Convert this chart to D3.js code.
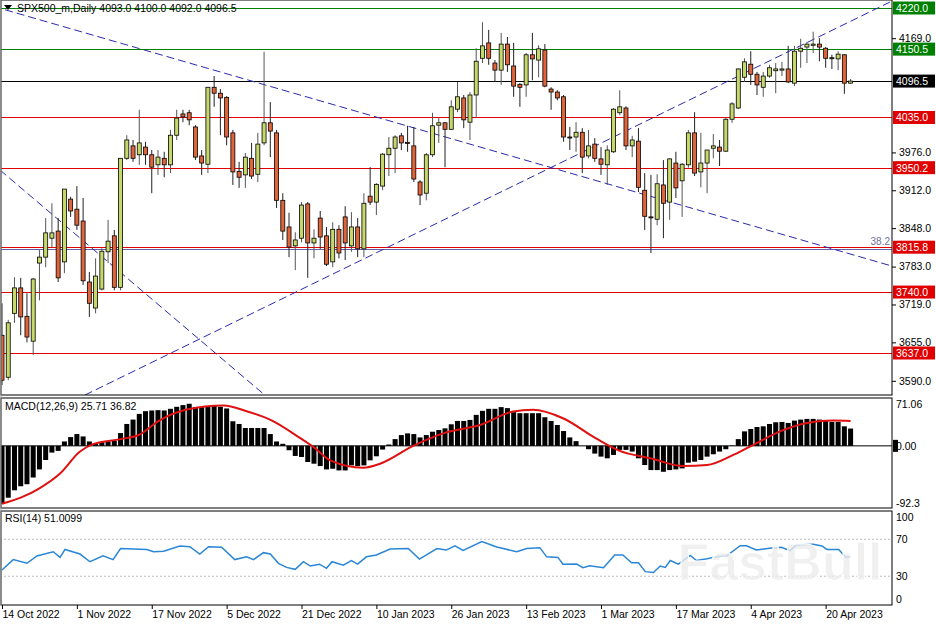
<!DOCTYPE html>
<html>
<head>
<meta charset="utf-8">
<script src="https://cdn.jsdelivr.net/npm/d3@7"></script>
<style>
  body { margin: 0; background: #fff; }
  svg text { font-family: "Liberation Sans", Arial, sans-serif; }
</style>
</head>
<body>
<svg id="chart" width="936" height="624"></svg>
<script>
const width = 936;
const height = 624;
const plotRight = 892;

// candles, 14 Oct 2022 .. 25 Apr 2023 (daily)
const open = [3667,3596,3704,3747,3699,3657,3789,3799,3831,3843,
  3791,3897,3880,3860,3757,3713,3745,3808,3835,3748,
  3966,3987,3972,3985,3972,3955,3966,3955,4005,4041,
  4043,4019,3970,3956,4086,4076,4069,4009,3944,3938,
  3966,3939,3992,4026,4009,3895,3850,3818,3831,3889,
  3823,3865,3835,3791,3846,3867,3818,3850,3813,3902,
  3892,3919,3972,3983,4004,3993,3987,3926,3907,3972,
  4022,4026,4015,4049,4068,4027,4073,4135,4161,4127,
  4115,4159,4122,4091,4090,4141,4132,4149,4083,4078,
  4070,4002,4002,4010,3970,3990,3965,3955,3977,4043,
  4051,3987,3995,3912,3867,3863,3921,3892,3958,3928,
  3955,4009,3943,3958,3983,3985,3978,4032,4051,4103,
  4125,4108,4086,4105,4114,4115,4117,4093,4147,4154,
  4157,4159,4152,4136,4134,4141,4093];
const high = [3721,3693,3765,3764,3738,3764,3811,3865,3890,3865,
  3914,3901,3919,3899,3774,3797,3814,3862,3845,3966,
  4005,3997,4048,3994,3980,3980,3977,4014,4048,4048,
  4048,4022,3980,4086,4105,4083,4071,4014,3960,3975,
  3992,4009,4146,4061,4014,3907,3874,3841,3892,3892,
  3846,3877,3850,3858,3853,3885,3875,3865,3907,3951,
  3924,3975,4002,4005,4009,4021,4019,3929,3975,4043,
  4034,4027,4064,4095,4073,4078,4152,4196,4183,4132,
  4178,4171,4161,4093,4144,4178,4157,4159,4086,4081,
  4073,4019,4027,4017,4014,4000,3985,3988,4051,4081,
  4054,4004,4017,3941,3938,3939,3963,3966,3977,3958,
  4014,4044,4009,3980,4007,3997,4034,4061,4118,4135,
  4147,4112,4112,4124,4127,4129,4156,4156,4168,4163,
  4180,4169,4154,4141,4147,4142,4100];
const low = [3583,3591,3688,3667,3655,3634,3726,3782,3816,3757,
  3772,3867,3845,3752,3698,3704,3743,3789,3743,3743,
  3963,3960,3955,3955,3907,3938,3934,3941,3997,4027,
  4022,3963,3938,3941,4053,4005,3988,3921,3916,3916,
  3931,3926,3988,3968,3882,3828,3799,3777,3824,3764,
  3797,3813,3784,3782,3797,3794,3808,3799,3799,3887,
  3870,3912,3936,3941,3980,3977,3926,3887,3895,3968,
  3992,3951,4014,4044,4017,3997,4036,4127,4124,4095,
  4090,4112,4070,4053,4070,4098,4103,4086,4048,4064,
  3994,3980,3977,3941,3966,3960,3938,3921,3975,4039,
  3980,3968,3909,3845,3806,3853,3831,3862,3899,3867,
  3950,3936,3917,3907,3966,3953,3977,4026,4049,4095,
  4090,4073,4070,4102,4076,4105,4093,4088,4119,4127,
  4144,4130,4119,4117,4115,4075,4092];
const close = [3591,3688,3747,3698,3664,3762,3799,3840,3840,3764,
  3914,3877,3853,3759,3721,3767,3809,3826,3748,3966,
  3997,3966,3992,3972,3951,3968,3955,4005,4034,4036,
  4031,3968,3958,4086,4076,4068,4002,3943,3934,3968,
  3936,3990,4026,4012,3895,3843,3816,3828,3887,3823,
  3831,3833,3787,3846,3806,3823,3850,3813,3890,3892,
  3922,3973,3983,4002,3992,3991,3931,3904,3972,4021,
  4026,4015,4053,4070,4031,4073,4130,4156,4135,4115,
  4159,4124,4088,4086,4141,4134,4151,4088,4078,4068,
  4002,4001,4010,3968,3987,3966,3956,3980,4049,4053,
  3987,3997,3917,3868,3866,3923,3890,3965,3916,3956,
  4009,3941,3958,3980,3987,3978,4032,4058,4117,4129,
  4108,4090,4105,4119,4117,4117,4095,4147,4152,4159,
  4159,4154,4135,4135,4142,4093,4096.5];

// MACD(12,26,9) histogram and signal line
const macd = [-86,-77,-66,-60,-57,-47,-35,-21,-10,-7.5,
  6.5,13,17.5,14,6.5,3,5.5,6.5,7.5,19,
  32.5,39,47.5,51.5,52.5,53,52.5,55,58,60.5,
  62.5,57.5,57.5,59,60,58,55.5,36.5,32.5,26.5,
  26.5,26.5,26.5,17.5,6.5,3,-6.5,-15,-16.5,-24,
  -26.5,-30,-35,-34,-36.5,-36.5,-29,-30,-29,-21.5,
  -15.5,-5.5,2,10,16,18.5,17.5,12.5,16,21,
  23.5,26,32,37,37,38.5,46,52,55,55,
  57.5,56,50,48.5,48.5,48.5,48.5,42.5,37,31,
  22,12.5,7,0,-5,-11.5,-16,-18.5,-13.5,-6,
  -6,-8.5,-18.5,-28.5,-36,-36,-38.5,-36,-35,-33.5,
  -25,-23.5,-21,-16,-12.5,-8.5,-5,0.5,10,21.5,
  25,28,29,32.5,35,35.5,34,37.5,39,40,
  40,39,38,35.5,35.5,29,25.71];
const signalAt = [0,3,6,9.3,12.5,14.6,19,22,25,29.6,35.5,39.2,43.5,47.8,49.9,52.6,57.9,60.6,65.9,71.2,76.6,81.9,85.1,89.9,95.2,99,103.9,109.2,113,117.2,120.4,124.7,129,133.2,136];
const signalVal = [-86,-77,-63,-41,-8.5,2.5,10,16.5,36.5,54,60,51.5,36.5,11.5,-1.5,-21.5,-32.5,-26.5,0,20,31,51,53.5,41,11,-7.5,-18.5,-30,-28.5,-13.5,1.5,21.5,34,37.5,36.82];

// RSI(14)
const rsiAt = [0,1.8,4,5.6,8.2,9.3,10.1,12.5,14.1,16.2,17.8,19,23.2,24.3,25.9,28.5,30.1,31.7,33.1,35.2,37.3,39.2,40.3,41.9,43,44.3,45.6,47,48.3,49.4,50.9,52,52.9,54.7,56,57,58.4,60,62.2,65.1,66.9,69.7,71.2,72.6,73.9,76.9,79.3,82.5,84.1,86.2,87.3,89.1,89.9,92.1,93.1,94.2,96.4,98.2,99.5,100.9,102,103.1,104.4,105.5,106.3,107.1,108.4,110.3,111.3,113,114.5,116.1,118.3,119.3,120.9,123,124.9,126.3,127.3,130,131.4,132.2,134.1,135.2,136];
const rsiVal = [36.8,48,44,52,56.5,50.5,59,54,45.7,52,48,60,59,56.5,57,62.7,62,54,62,61.3,48,51,48,55.5,54,44,39.6,37.5,45.7,41,43,38.6,45.7,42,46.8,43.2,51,53,59.5,60,48.6,60,58.3,63,58,67.4,61.6,56.5,60,60.9,51,50.4,43,43.2,39.2,41.4,39.2,53,53,44.6,44.6,35,34,41,39.6,47,43,52.5,47,48.9,51.2,51.9,63,63,58.4,60.2,61.3,57.7,63.8,64.5,62.7,59,59,50.5,51.01];

const dateLabels = ["14 Oct 2022","1 Nov 2022","17 Nov 2022","5 Dec 2022","21 Dec 2022","10 Jan 2023","26 Jan 2023","13 Feb 2023","1 Mar 2023","17 Mar 2023","4 Apr 2023","20 Apr 2023"];
const dateIdx = [0,12,24,36,48,60,72,84,96,108,120,132];

// 4105.0 and 4041.0 sit under the level boxes, so they are left out
const priceTicks = [4169,3976,3912,3848,3783,3719,3655,3590];
const levels = [
  { p: 4220.0, c: "#008000" }, { p: 4150.5, c: "#008000" }, { p: 4096.5, c: "#000000" },
  { p: 4035.0, c: "#e00000" }, { p: 3950.2, c: "#e00000" }, { p: 3815.8, c: "#e00000" },
  { p: 3740.0, c: "#e00000" }, { p: 3637.0, c: "#e00000" }];
// dashed trend lines [index, price]
const trendLines = [
  [[0.5, 4217], [142.6, 3784]],
  [[-0.3, 3946], [42.1, 3566]],
  [[13.3, 3566], [142.3, 4230]]];

const svg = d3.select("#chart");
const x = d3.scaleLinear().domain([0, 136]).range([2, 850.6]);
const y = d3.scaleLinear().domain([3637, 4220]).range([353, 8]);
const ym = d3.scaleLinear().domain([-92.3, 71.06]).range([508, 398]);
const yr = d3.scaleLinear().domain([0, 100]).range([604, 511.5]);

const panels = [[0, 395], [398, 508], [511, 605]];
panels.forEach((p, k) => {
  svg.append("clipPath").attr("id", "clip" + k)
    .append("rect").attr("x", 1).attr("y", p[0]).attr("width", plotRight - 1).attr("height", p[1] - p[0]);
});

// price panel
const gp = svg.append("g").attr("clip-path", "url(#clip0)");
levels.forEach(l => {
  gp.append("line").attr("x1", 0).attr("x2", plotRight)
    .attr("y1", Math.round(y(l.p)) + 0.5).attr("y2", Math.round(y(l.p)) + 0.5)
    .attr("stroke", l.c).attr("stroke-width", 1);
});
gp.append("line").attr("x1", 0).attr("x2", plotRight).attr("y1", Math.round(y(3812)) + 0.5).attr("y2", Math.round(y(3812)) + 0.5)
  .attr("stroke", "#6060a8").attr("stroke-width", 1);
trendLines.forEach(t => {
  gp.append("line").attr("x1", x(t[0][0])).attr("y1", y(t[0][1])).attr("x2", x(t[1][0])).attr("y2", y(t[1][1]))
    .attr("stroke", "#2a2ab0").attr("stroke-width", 1).attr("stroke-dasharray", "8,4");
});
gp.append("text").attr("x", 890).attr("y", y(3815.8) - 2).attr("text-anchor", "end")
  .attr("font-size", 10).attr("fill", "#7070a0").text("38.2");

const idx = d3.range(open.length);
gp.selectAll(".wick").data(idx).join("line")
  .attr("x1", i => x(i)).attr("x2", i => x(i))
  .attr("y1", i => y(high[i])).attr("y2", i => y(low[i]))
  .attr("stroke", i => close[i] >= open[i] ? "#555" : "#222").attr("stroke-width", 1);
gp.selectAll(".body").data(idx).join("rect")
  .attr("x", i => x(i) - 2).attr("width", 4)
  .attr("y", i => y(Math.max(open[i], close[i])))
  .attr("height", i => Math.max(1, Math.abs(y(open[i]) - y(close[i]))))
  .attr("fill", i => close[i] >= open[i] ? "#c6d86a" : "#e0643a")
  .attr("stroke", "#000").attr("stroke-width", 0.8);

gp.append("text").attr("x", 17).attr("y", 12).attr("font-size", 10.5).attr("fill", "#000")
  .text("SPX500_m,Daily  4093.0 4100.0 4092.0 4096.5");
gp.append("path").attr("d", "M4,5 L12,5 L8,10 Z").attr("fill", "#000");

// MACD panel
const gm = svg.append("g").attr("clip-path", "url(#clip1)");
gm.selectAll(".hist").data(idx).join("rect")
  .attr("x", i => x(i) - 2.5).attr("width", 5)
  .attr("y", i => ym(Math.max(0, macd[i])))
  .attr("height", i => Math.abs(ym(macd[i]) - ym(0)))
  .attr("fill", "#000");
gm.append("line").attr("x1", 0).attr("x2", plotRight).attr("y1", ym(0)).attr("y2", ym(0)).attr("stroke", "#000");
gm.append("path")
  .datum(d3.range(signalAt.length))
  .attr("d", d3.line().x(k => x(signalAt[k])).y(k => ym(signalVal[k])).curve(d3.curveMonotoneX))
  .attr("fill", "none").attr("stroke", "#e01010").attr("stroke-width", 2);
gm.append("text").attr("x", 5).attr("y", 410).attr("font-size", 10.5).text("MACD(12,26,9) 25.71 36.82");

// RSI panel
const gr = svg.append("g").attr("clip-path", "url(#clip2)");
[70, 30].forEach(v => {
  gr.append("line").attr("x1", 0).attr("x2", plotRight).attr("y1", yr(v)).attr("y2", yr(v))
    .attr("stroke", "#bbb").attr("stroke-dasharray", "2,2");
});
gr.append("path")
  .datum(d3.range(rsiAt.length))
  .attr("d", d3.line().x(k => x(rsiAt[k])).y(k => yr(rsiVal[k])))
  .attr("fill", "none").attr("stroke", "#2a86d6").attr("stroke-width", 1.5);
gr.append("text").attr("x", 5).attr("y", 522).attr("font-size", 10.5).text("RSI(14) 51.0099");
gr.append("text").attr("x", 780).attr("y", 580).attr("text-anchor", "middle")
  .attr("font-size", 52).attr("font-weight", "bold").attr("fill", "#ececec").attr("fill-opacity", 0.8)
  .attr("stroke", "#ffffff").attr("stroke-width", 1).text("FastBull");

// frames
panels.forEach(p => {
  svg.append("rect").attr("x", 1).attr("y", p[0]).attr("width", plotRight - 1).attr("height", p[1] - p[0])
    .attr("fill", "none").attr("stroke", "#000").attr("stroke-width", 1);
});
svg.append("line").attr("x1", 1).attr("x2", 1).attr("y1", 0).attr("y2", 605).attr("stroke", "#999");

// price axis
svg.append("g").attr("transform", `translate(${plotRight},0)`)
  .call(d3.axisRight(y).tickValues(priceTicks).tickSize(4).tickFormat(d3.format(".1f")))
  .call(g => g.select(".domain").remove())
  .call(g => g.selectAll("text").attr("font-size", 10.5).attr("fill", "#000"));
levels.forEach(l => {
  svg.append("rect").attr("x", 893).attr("y", y(l.p) - 6.5).attr("width", 42).attr("height", 13).attr("fill", l.c);
  svg.append("text").attr("x", 896).attr("y", y(l.p) + 4).attr("font-size", 10.5).attr("fill", "#fff")
    .text(l.p.toFixed(1));
});

// MACD axis
svg.append("g").attr("transform", `translate(${plotRight},0)`)
  .call(d3.axisRight(ym).tickValues([71.06, 0, -92.3]).tickSize(0).tickPadding(4)
    .tickFormat(d => d === 0 ? "0.00" : (d > 0 ? d.toFixed(2) : d.toFixed(1))))
  .call(g => g.select(".domain").remove())
  .call(g => g.selectAll("text").attr("font-size", 10.5).attr("fill", "#000")
    .attr("dy", (d, k) => k === 0 ? "0.9em" : (k === 2 ? "-0.1em" : "0.32em")));
svg.append("rect").attr("x", 893).attr("y", ym(0) - 6).attr("width", 5).attr("height", 12).attr("fill", "#000");

// RSI axis
svg.append("g").attr("transform", `translate(${plotRight},0)`)
  .call(d3.axisRight(yr).tickValues([100, 70, 30, 0]).tickSize(0).tickPadding(4))
  .call(g => g.select(".domain").remove())
  .call(g => g.selectAll("text").attr("font-size", 10.5).attr("fill", "#000")
    .attr("dy", (d, k) => k === 0 ? "0.9em" : (k === 3 ? "-0.1em" : "0.32em")));

// date axis
svg.append("g").attr("transform", "translate(0,605)")
  .call(d3.axisBottom(x).tickValues(dateIdx).tickSize(4).tickPadding(2)
    .tickFormat((d, k) => dateLabels[k]))
  .call(g => g.select(".domain").remove())
  .call(g => g.selectAll("text").attr("font-size", 10.5).attr("fill", "#000")
    .attr("text-anchor", "start").attr("dx", "0"));
</script>
</body>
</html>
